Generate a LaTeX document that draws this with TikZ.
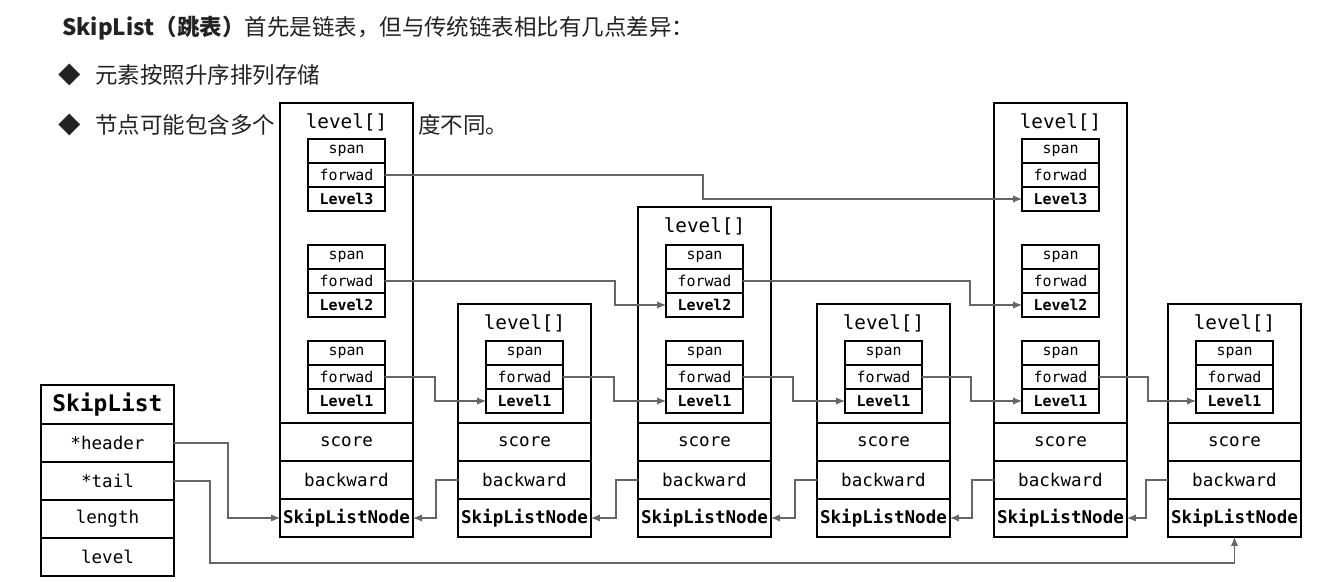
\documentclass[tikz,border=0pt]{standalone}
\usepackage{fontspec}
\setmonofont{DejaVu Sans Mono}
\newfontfamily\cjk{Noto Sans CJK SC}
\usetikzlibrary{arrows.meta,positioning,calc}
\definecolor{tinta}{HTML}{222222}
\definecolor{gris}{HTML}{666666}
\tikzset{
  celda/.style={draw=black,line width=1.1pt,outer sep=0pt,inner sep=0pt,
    minimum width=2.66cm,minimum height=0.76cm,font=\ttfamily\fontsize{10}{12}\selectfont},
  sub/.style={draw=black,line width=1.1pt,outer sep=0pt,inner sep=0pt,
    minimum width=1.54cm,minimum height=0.48cm,font=\ttfamily\fontsize{8.5}{10}\selectfont},
  nivel/.style={sub,font=\ttfamily\bfseries\fontsize{8.5}{10}\selectfont},
  marco/.style={draw=black,line width=1.1pt,outer sep=0pt,inner sep=0pt,
    anchor=north west,minimum width=2.66cm},
  liga/.style={draw=gris,line width=0.6pt,-{Latex[length=5pt,width=4pt]}},
  texto/.style={anchor=west,inner sep=0pt,text=tinta,font=\cjk\fontsize{12.8}{15}\selectfont}
}
\begin{document}
\begin{tikzpicture}[x=0.02cm,y=-0.02cm,>=Latex,line cap=round]
  \useasboundingbox (0,0) rectangle (1341,581);
  \node[texto] (titulo) at (62,28)
    {\textbf{SkipList（跳表）}首先是链表，但与传统链表相比有几点差异：};
  \node[texto,anchor=center] (punto1) at (70,75) {◆};
  \node[texto] (linea1) at (95,75) {元素按照升序排列存储};
  \node[texto,anchor=center] (punto2) at (70,125) {◆};
  \node[texto] (linea2a) at (95,125) {节点可能包含多个};
  \node[texto] (linea2b) at (418,125) {度不同。};

  \foreach \i/\x/\t/\k in {1/280/103/3,2/458/304/1,3/638/207/2,
                           4/817/304/1,5/994/103/3,6/1168/304/1}{
    \pgfmathsetmacro\h{(423-\t)*0.02}
    \node[marco,minimum height=\h cm] (n\i) at (\x,\t) {};
    \node[font=\ttfamily\fontsize{11}{13}\selectfont] (n\i-tag) at (\x+66.5,\t+19) {level[]};
    \node[celda,anchor=north west] (n\i-score) at (\x,423) {score};
    \node[celda,below=0pt of n\i-score] (n\i-back) {backward};
    \node[celda,below=0pt of n\i-back] (n\i-node) {\bfseries SkipListNode};
    \foreach \j in {1,...,\k}{
      \pgfmathsetmacro\yl{{401,305,199}[\j-1]}
      \node[nivel] (n\i-l\j) at (\x+66.5,\yl) {Level\j};
      \node[sub,above=0pt of n\i-l\j] (n\i-f\j) {forwad};
      \node[sub,above=0pt of n\i-f\j] (n\i-s\j) {span};
    }
  }

  \node[celda,anchor=north west,minimum height=0.78cm,
        font=\ttfamily\bfseries\fontsize{13}{15}\selectfont] (sl) at (41,385) {SkipList};
  \node[celda,below=0pt of sl] (sl-header) {*header};
  \node[celda,below=0pt of sl-header] (sl-tail) {*tail};
  \node[celda,below=0pt of sl-tail] (sl-length) {length};
  \node[celda,below=0pt of sl-length] (sl-level) {level};

  \foreach \a/\b/\j/\d in {1/2/1/50,2/3/1/51,3/4/1/50,4/5/1/49,5/6/1/49,
                           1/3/2/230,3/5/2/227,1/5/3/318}
    \draw[liga] (n\a-f\j.east) -- ++(\d,0) |- (n\b-l\j.west);
  \foreach \a/\b in {2/1,3/2,4/3,5/4,6/5}
    \draw[liga] (n\a-back.west) -- ++(-22,0) |- (n\b-node.east);
  \draw[liga] (sl-header.east) -- ++(54,0) |- (n1-node.west);
  \draw[liga] (sl-tail.east) -- ++(36,0) -- ++(0,82) -| (n6-node.south);
\end{tikzpicture}
\end{document}
